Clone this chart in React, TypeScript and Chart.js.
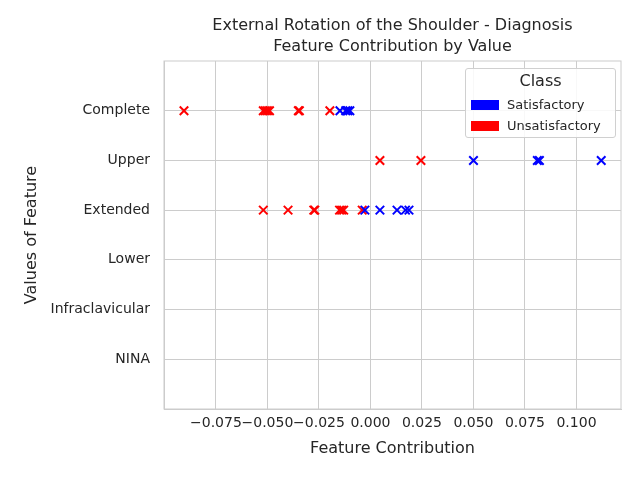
import { Chart, registerables } from "chart.js";
import { useEffect, useRef } from "react";

Chart.register(...registerables);

const categories = ["Complete", "Upper", "Extended", "Lower", "Infraclavicular", "NINA"];
const xTicks = [-0.075, -0.05, -0.025, 0, 0.025, 0.05, 0.075, 0.1];

// [contribution, category index]
const satisfactory: [number, number][] = [
  [-0.0148, 0], [-0.012, 0], [-0.011, 0], [-0.010, 0],
  [0.05, 1], [0.081, 1], [0.082, 1], [0.112, 1],
  [-0.0027, 2], [0.0046, 2], [0.0129, 2], [0.017, 2], [0.0187, 2],
];
const unsatisfactory: [number, number][] = [
  [-0.0905, 0], [-0.052, 0], [-0.051, 0], [-0.05, 0], [-0.049, 0], [-0.035, 0], [-0.0345, 0], [-0.0197, 0],
  [0.0046, 1], [0.0245, 1],
  [-0.052, 2], [-0.04, 2], [-0.0275, 2], [-0.027, 2], [-0.015, 2], [-0.014, 2], [-0.013, 2], [-0.004, 2],
];

const FONT = "'DejaVu Sans', sans-serif";
const TEXT = "#262626";

const titlePlugin = {
  id: "twoLineTitle",
  afterDraw(chart: Chart) {
    const { ctx, chartArea } = chart;
    const cx = (chartArea.left + chartArea.right) / 2;
    ctx.save();
    ctx.strokeStyle = "#cccccc";
    ctx.lineWidth = 1;
    ctx.strokeRect(chartArea.left, chartArea.top, chartArea.right - chartArea.left, chartArea.bottom - chartArea.top);
    ctx.fillStyle = TEXT;
    ctx.font = `16px ${FONT}`;
    ctx.textAlign = "center";
    ctx.textBaseline = "middle";
    ctx.fillText("External Rotation of the Shoulder - Diagnosis", cx, 26);
    ctx.fillText("Feature Contribution by Value", cx, 47);
    ctx.restore();
  },
};

const fmt = (v: number) => {
  const s = Math.abs(v).toFixed(3);
  return v < -1e-9 ? "\u2212" + s : s;
};

export default function App() {
  const canvasRef = useRef<HTMLCanvasElement>(null);

  useEffect(() => {
    document.body.style.margin = "0";
    if (!canvasRef.current) return;
    const toPts = (arr: [number, number][]) => arr.map(([x, y]) => ({ x, y }));
    const chart = new Chart(canvasRef.current, {
      type: "scatter",
      data: {
        datasets: [
          { label: "Satisfactory", data: toPts(satisfactory), pointStyle: "crossRot", radius: 6, borderColor: "#0000ff", backgroundColor: "#0000ff", borderWidth: 2 },
          { label: "Unsatisfactory", data: toPts(unsatisfactory), pointStyle: "crossRot", radius: 6, borderColor: "#ff0000", backgroundColor: "#ff0000", borderWidth: 2 },
        ],
      },
      options: {
        animation: false,
        responsive: false,
        layout: { padding: { top: 61, right: 19, left: 18, bottom: 18 } },
        plugins: { legend: { display: false }, tooltip: { enabled: false }, title: { display: false } },
        scales: {
          x: {
            type: "linear",
            min: -0.1002,
            max: 0.1216,
            afterBuildTicks: (s: any) => { s.ticks = xTicks.map((v) => ({ value: v })); },
            afterFit: (s: any) => { s.height = 53; },
            ticks: { color: TEXT, font: { family: FONT, size: 14 }, padding: 6, callback: (v: any) => fmt(Number(v)), maxRotation: 0, autoSkip: false },
            grid: { color: "#cccccc", lineWidth: 1, drawTicks: false },
            border: { color: "#cccccc" },
            title: { display: true, text: "Feature Contribution", color: TEXT, font: { family: FONT, size: 16 }, padding: { top: 4 } },
          },
          y: {
            type: "linear",
            min: -1,
            max: 6,
            reverse: true,
            afterBuildTicks: (s: any) => { s.ticks = categories.map((_, i) => ({ value: i })); },
            afterFit: (s: any) => { s.width = 146; },
            ticks: { color: TEXT, font: { family: FONT, size: 14 }, padding: 14, callback: (v: any) => categories[Number(v)] ?? "" },
            grid: { color: "#cccccc", lineWidth: 1, drawTicks: false },
            border: { color: "#cccccc" },
            title: { display: true, text: "Values of Feature", color: TEXT, font: { family: FONT, size: 16 }, padding: { bottom: 4 } },
          },
        },
      },
      plugins: [titlePlugin],
    } as any);
    return () => chart.destroy();
  }, []);

  const sw = (c: string) => ({ display: "inline-block", width: 28, height: 10, background: c, marginRight: 8 });
  return (
    <div style={{ position: "relative", width: 640, height: 480 }}>
      <canvas ref={canvasRef} width={640} height={480} />
      <div style={{ position: "absolute", left: 465, top: 68, width: 151, height: 70, border: "1px solid #d0d0d0", borderRadius: 3, background: "rgba(255,255,255,0.85)", fontFamily: FONT, color: TEXT, boxSizing: "border-box", padding: "3px 5px" }}>
        <div style={{ textAlign: "center", fontSize: 16, lineHeight: "18px", marginBottom: 4 }}>Class</div>
        <div style={{ fontSize: 13, lineHeight: "21px", display: "flex", alignItems: "center" }}><span style={sw("#0000ff")} />Satisfactory</div>
        <div style={{ fontSize: 13, lineHeight: "21px", display: "flex", alignItems: "center" }}><span style={sw("#ff0000")} />Unsatisfactory</div>
      </div>
    </div>
  );
}
